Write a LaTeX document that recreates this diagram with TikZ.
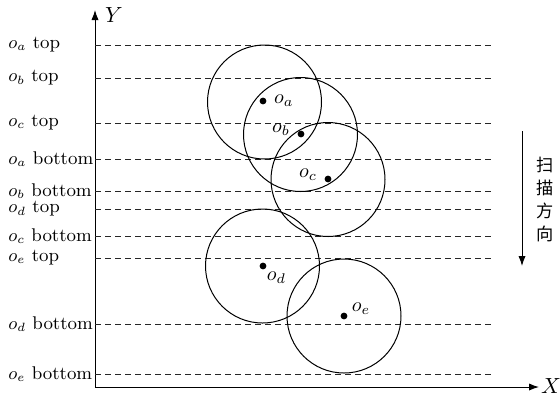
\documentclass[tikz,border=0pt]{standalone}
\usepackage{fontspec}
\newfontfamily\cjk{Noto Sans CJK SC}
\usetikzlibrary{positioning,arrows.meta}

\begin{document}
\begin{tikzpicture}[
x=0.5pt, y=-0.5pt,
font=\fontsize{9.2}{11}\selectfont,
lab/.style={anchor=west, inner sep=0pt},
level/.style={dash pattern=on 3pt off 2pt, black!85},
ring/.style={draw, circle, minimum size=57pt, inner sep=0pt},
dot/.style={fill, circle, minimum size=3.4pt, inner sep=0pt},
line width=0.5pt,
>={Latex[length=5pt,width=3.6pt]}
]

\useasboundingbox (0,0) rectangle (560,398);

% axes
\coordinate (O) at (95,387);
\coordinate (ytip) at (95,10);
\coordinate (xtip) at (539,387);
\draw[->] (O) -- (ytip);
\draw[->] (O) -- (xtip);
\node[font=\fontsize{11}{13}\selectfont] (ylab) at (114,15) {$Y$};
\node[font=\fontsize{11}{13}\selectfont] (xlab) at (551,386) {$X$};

\node[lab] (atop) at (8,45) {$o_a$ top};
\node[lab] (btop) at (8,78) {$o_b$ top};
\node[lab] (ctop) at (8,123) {$o_c$ top};
\node[lab] (abot) at (8,159) {$o_a$ bottom};
\node[lab] (bbot) at (8,191) {$o_b$ bottom};
\node[lab] (dtop) at (8,209) {$o_d$ top};
\node[lab] (cbot) at (8,236) {$o_c$ bottom};
\node[lab] (etop) at (8,258) {$o_e$ top};
\node[lab] (dbot) at (8,324) {$o_d$ bottom};
\node[lab] (ebot) at (8,374) {$o_e$ bottom};

\draw[level] (atop -| O) -- ++(397,0);
\draw[level] (btop -| O) -- ++(397,0);
\draw[level] (ctop -| O) -- ++(397,0);
\draw[level] (abot -| O) -- ++(397,0);
\draw[level] (bbot -| O) -- ++(397,0);
\draw[level] (dtop -| O) -- ++(397,0);
\draw[level] (cbot -| O) -- ++(397,0);
\draw[level] (etop -| O) -- ++(397,0);
\draw[level] (dbot -| O) -- ++(397,0);
\draw[level] (ebot -| O) -- ++(397,0);

% circles
\node[dot] (oa) at (263,101) {};
\node[dot] (ob) at (301,134) {};
\node[dot] (oc) at (328,179) {};
\node[dot] (od) at (263,266) {};
\node[dot] (oe) at (344,316) {};
\node[ring] (ca) at (264.5,102) {};
\node[ring] (cb) at (300.5,134.5) {};
\node[ring] (cc) at (328,179.5) {};
\node[ring] (cd) at (262.5,266) {};
\node[ring] (ce) at (344,316) {};

\node[right=0pt of oa, font=\fontsize{10}{12}\selectfont] {$o_a$};
\node[left=0pt of ob, yshift=2pt, font=\fontsize{10}{12}\selectfont] {$o_b$};
\node[left=0pt of oc, yshift=2pt, font=\fontsize{10}{12}\selectfont] {$o_c$};
\node[below right=-2pt and -3pt of od, font=\fontsize{10}{12}\selectfont] {$o_d$};
\node[above right=-4pt and -1pt of oe, font=\fontsize{10}{12}\selectfont] {$o_e$};

% scan direction
\coordinate (s1) at (522,131);
\coordinate (s2) at (522,266);
\draw[->] (s1) -- (s2);
\node[align=center, inner sep=0pt, font=\cjk\fontsize{8.6}{11.5}\selectfont] (scan) at (545,199) {扫\\描\\方\\向};

\end{tikzpicture}
\end{document}
